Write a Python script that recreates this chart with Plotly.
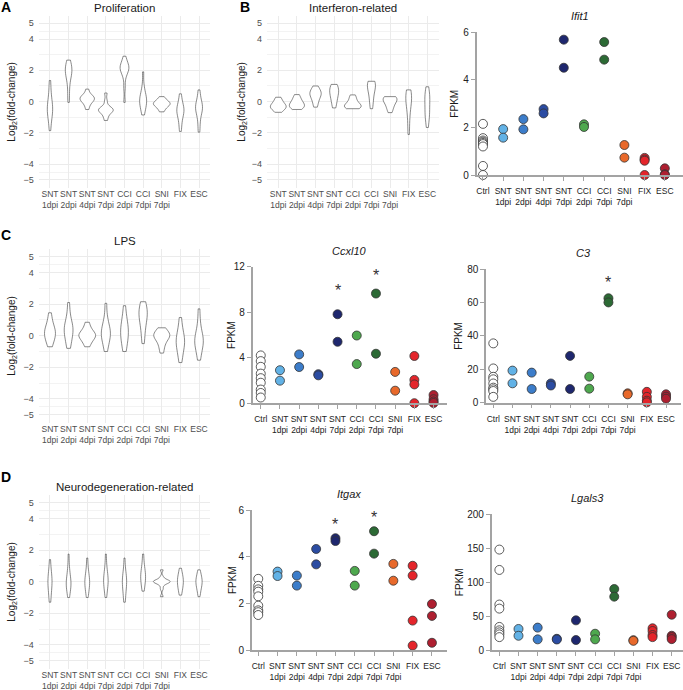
import plotly.graph_objects as go

W, H = 683, 690

groups = ["Ctrl", "SNT<br>1dpi", "SNT<br>2dpi", "SNT<br>4dpi", "SNT<br>7dpi",
          "CCI<br>2dpi", "CCI<br>7dpi", "SNI<br>7dpi", "FIX", "ESC"]
violin_groups = groups[1:]
colors = ["white", "#62b2e6", "#3c7dca", "#2b4ca2", "#1e276e",
          "#4ea84e", "#2c6a35", "#e8692b", "#e4252b", "#ae1f30"]

# log2 fold-change distributions (one list per condition), read by eye
prolif = [
    [1.35, 0.8, 0.3, 0.0, -0.2, -0.35, -0.5, -0.6, -0.75, -0.95, -1.3, -1.85],
    [2.65, 2.4, 2.25, 2.15, 2.05, 1.95, 1.85, 1.7, 1.5, 1.1, 0.5, -0.05],
    [0.8, 0.5, 0.38, 0.3, 0.25, 0.2, 0.15, 0.1, 0.02, -0.08, -0.25, -0.5],
    [0.55, 0.05, -0.3, -0.42, -0.48, -0.52, -0.55, -0.58, -0.65, -0.78, -0.95, -1.2],
    [2.9, 2.6, 2.4, 2.3, 2.2, 2.15, 2.1, 2.0, 1.85, 1.6, 0.9, -0.05],
    [1.9, 1.0, 0.6, 0.4, 0.25, 0.15, 0.05, -0.05, -0.2, -0.35, -0.55, -0.85],
    [0.32, 0.15, 0.05, -0.02, -0.08, -0.12, -0.16, -0.2, -0.26, -0.35, -0.48, -0.65],
    [0.5, 0.1, -0.2, -0.35, -0.45, -0.55, -0.62, -0.72, -0.9, -1.15, -1.5, -1.9],
    [0.75, 0.3, 0.0, -0.18, -0.28, -0.36, -0.44, -0.55, -0.72, -1.0, -1.45, -1.95],
]
interferon = [
    [0.28, 0.15, 0.0, -0.1, -0.2, -0.25, -0.3, -0.35, -0.4, -0.45, -0.55, -0.68],
    [0.45, 0.3, 0.15, 0.05, -0.05, -0.15, -0.2, -0.25, -0.3, -0.35, -0.42, -0.5],
    [1.0, 0.85, 0.7, 0.6, 0.55, 0.5, 0.45, 0.35, 0.2, 0.05, -0.15, -0.35],
    [1.1, 1.0, 0.9, 0.8, 0.7, 0.6, 0.5, 0.35, 0.2, 0.05, -0.2, -0.4],
    [0.43, 0.3, 0.15, 0.0, -0.1, -0.2, -0.25, -0.3, -0.32, -0.35, -0.4, -0.45],
    [1.3, 1.25, 1.2, 1.15, 1.05, 0.95, 0.8, 0.6, 0.4, 0.15, -0.15, -0.45],
    [0.32, 0.3, 0.25, 0.2, 0.15, 0.1, 0.0, -0.1, -0.2, -0.35, -0.5, -0.7],
    [0.75, 0.6, 0.5, 0.4, 0.3, 0.15, 0.0, -0.2, -0.5, -0.9, -1.5, -2.1],
    [0.95, 0.55, 0.4, 0.3, 0.2, 0.05, -0.5, -0.65, -0.75, -0.9, -1.2, -1.65],
]
lps = [
    [1.45, 1.0, 0.7, 0.5, 0.35, 0.25, 0.15, 0.05, -0.1, -0.25, -0.45, -0.7],
    [2.1, 1.4, 0.95, 0.7, 0.55, 0.45, 0.35, 0.2, 0.0, -0.25, -0.5, -0.8],
    [0.85, 0.55, 0.35, 0.2, 0.1, 0.05, 0.0, -0.05, -0.15, -0.3, -0.45, -0.7],
    [2.05, 1.2, 0.8, 0.55, 0.35, 0.25, 0.15, 0.0, -0.15, -0.35, -0.6, -1.0],
    [1.9, 1.3, 0.95, 0.7, 0.5, 0.35, 0.2, 0.05, -0.15, -0.4, -0.65, -1.0],
    [2.15, 1.95, 1.75, 1.6, 1.45, 1.35, 1.2, 1.0, 0.75, 0.4, 0.0, -0.5],
    [0.5, 0.35, 0.2, 0.1, 0.05, 0.0, -0.05, -0.15, -0.3, -0.5, -0.75, -1.1],
    [1.15, 0.6, 0.25, 0.0, -0.2, -0.3, -0.4, -0.55, -0.75, -1.0, -1.3, -1.7],
    [1.7, 0.9, 0.4, 0.1, -0.1, -0.25, -0.35, -0.45, -0.6, -0.85, -1.15, -1.55],
]
neurodeg = [
    [1.4, 0.85, 0.55, 0.35, 0.15, 0.05, -0.05, -0.2, -0.4, -0.65, -0.95, -1.3],
    [1.75, 1.0, 0.6, 0.35, 0.15, 0.0, -0.1, -0.2, -0.3, -0.45, -0.7, -1.0],
    [1.5, 0.9, 0.55, 0.35, 0.2, 0.05, -0.05, -0.15, -0.3, -0.45, -0.7, -1.0],
    [1.75, 1.05, 0.7, 0.45, 0.3, 0.15, 0.05, -0.05, -0.2, -0.4, -0.65, -1.0],
    [1.5, 0.85, 0.5, 0.3, 0.15, 0.05, -0.05, -0.2, -0.4, -0.65, -0.95, -1.3],
    [1.75, 1.2, 0.9, 0.65, 0.5, 0.4, 0.3, 0.2, 0.05, -0.15, -0.35, -0.6],
    [0.75, 0.3, 0.12, 0.06, 0.03, 0.0, 0.0, -0.03, -0.08, -0.2, -0.45, -0.95],
    [0.85, 0.55, 0.4, 0.25, 0.15, 0.05, -0.05, -0.15, -0.3, -0.45, -0.6, -0.85],
    [0.75, 0.5, 0.35, 0.2, 0.1, 0.0, -0.05, -0.15, -0.3, -0.45, -0.65, -0.95],
]

# FPKM per sample, one list per group (Ctrl ... ESC)
ifit1 = [[2.15, 1.55, 1.45, 1.4, 1.35, 1.3, 1.2, 0.38, 0.0],
         [1.93, 1.57], [2.35, 1.92], [2.77, 2.59], [5.69, 4.51],
         [2.13, 2.02], [5.59, 4.85], [1.26, 0.73], [0.72, 0.65, 0.6, 0.0],
         [0.28, 0.03, 0.0]]
cxcl10 = [[4.2, 3.7, 3.2, 2.6, 2.2, 1.8, 1.2, 0.9, 0.5],
          [2.9, 1.98], [4.29, 3.18], [2.55, 2.45], [7.82, 5.4],
          [5.95, 3.44], [9.64, 4.35], [2.75, 1.1], [4.15, 2.05, 1.65, 0.0],
          [0.72, 0.35, 0.15, 0.02]]
c3 = [[35.5, 20.5, 15.5, 14, 11.5, 9, 8, 7, 3.5],
      [19.2, 11.6], [18, 8.2], [11.5, 10.3], [28, 8.2],
      [15.6, 8.4], [62.5, 60], [5.6, 5], [6.5, 3.5, 1.2, 0.2],
      [5, 3.6, 2.4]]
itgax = [[3.05, 2.75, 2.6, 2.5, 2.3, 1.9, 1.7, 1.62, 1.5],
         [3.36, 3.17], [3.19, 2.76], [4.33, 3.67], [4.79, 4.67],
         [3.39, 2.76], [5.09, 4.13], [3.69, 2.97], [3.61, 3.19, 1.26, 0.19],
         [1.97, 1.46, 0.31]]
lgals3 = [[148, 118, 67, 61, 34, 29, 26, 23, 19],
          [31, 21], [33, 15.7], [16.5, 15.5], [43.7, 14.7],
          [24, 15.7], [89.9, 78.6], [14.5, 13.5], [32, 28, 22, 19],
          [52, 21, 19, 16]]

# significance stars: (group index, height)
ifit1_stars = [(4, 6.4), (6, 6.4)]
cxcl10_stars = [(4, 10.2), (6, 11.5)]
c3_stars = [(6, 73.5)]
itgax_stars = [(4, 5.5), (6, 5.79)]

FONT = "Arial, Liberation Sans, sans-serif"


def xd(a, b):
    return [a / W, b / W]


def yd(top, bottom):
    return [1 - bottom / H, 1 - top / H]


def label(text, px, py, size=11, color="#1a1a1a", angle=0):
    fig.add_annotation(text=text, x=px / W, y=1 - py / H, xref="paper", yref="paper",
                       xanchor="center", yanchor="middle",
                       showarrow=False, textangle=angle,
                       font=dict(family=FONT, size=size, color=color))


fig = go.Figure()

# ---- violin panels ----
violin_panels = [
    (prolif, 1, "Proliferation", (38.8, 210.2), (15.5, 187.8), "A", (6, 7), 12),
    (interferon, 2, "Interferon-related", (267.1, 438.5), (15.5, 187.8), "B", (245, 7), 242),
    (lps, 3, "LPS", (38.8, 210.2), (248.8, 422.6), "C", (6, 235), 12),
    (neurodeg, 4, "Neurodegeneration-related", (38.8, 210.2), (494.8, 668.6), "D", (6, 477), 12),
]
for data, n, title, xpx, ypx, letter, lpos, ytx in violin_panels:
    xs, ys = [], []
    for name, vals in zip(violin_groups, data):
        xs += [name] * len(vals)
        ys += vals
    fig.add_trace(go.Violin(x=xs, y=ys, xaxis="x%d" % n, yaxis="y%d" % n,
                            scalegroup="v%d" % n, scalemode="width", spanmode="hard",
                            width=0.9, points=False,
                            fillcolor="white", line=dict(color="#3a3a3a", width=0.6),
                            showlegend=False, hoverinfo="skip"))
    fig.update_layout(**{
        "xaxis%d" % n: dict(domain=xd(*xpx), anchor="y%d" % n, range=[-0.6, 8.6],
                            categoryorder="array", categoryarray=violin_groups,
                            showgrid=True, gridcolor="#ebebeb", gridwidth=0.6,
                            ticks="", showline=False, zeroline=False, tickangle=0,
                            automargin=False,
                            tickfont=dict(family=FONT, size=8.5, color="#4d4d4d")),
        "yaxis%d" % n: dict(domain=yd(*ypx), anchor="x%d" % n, range=[-5.5, 5.5],
                            tickvals=[-5, -4, -2, 0, 2, 4, 5],
                            showgrid=True, gridcolor="#ebebeb", gridwidth=0.6,
                            minor=dict(tickvals=[-4.5, -3, -1, 1, 3, 4.5], showgrid=True,
                                       gridcolor="#f3f3f3", gridwidth=0.5),
                            ticks="", showline=False, zeroline=False, automargin=False,
                            ticklabelstandoff=4,
                            tickfont=dict(family=FONT, size=9, color="#4d4d4d")),
    })
    cx = (xpx[0] + xpx[1]) / 2
    label(title, cx, ypx[0] - 8, size=11.5)
    label("<b>%s</b>" % letter, lpos[0], lpos[1], size=14, color="black")
    label("Log<sub>2</sub>(fold-change)", ytx, (ypx[0] + ypx[1]) / 2, size=10, angle=-90)

# ---- dot panels ----
dot_panels = [
    (ifit1, 5, "Ifit1", (476.5, 683), (-0.32, 9.9), (32.3, 175), [0, 6], [0, 2, 4, 6], ifit1_stars, 455),
    (cxcl10, 6, "Ccxl10", (252.5, 447), (-0.43, 9.7), (266.7, 403.2), [0, 12], [0, 4, 8, 12], cxcl10_stars, 232),
    (c3, 7, "C3", (486, 681), (-0.38, 9.78), (269, 402.7), [0, 80], [0, 20, 40, 60, 80], c3_stars, 459),
    (itgax, 8, "Itgax", (251.7, 447), (-0.34, 9.78), (510, 650), [0, 6], [0, 2, 4, 6], itgax_stars, 232),
    (lgals3, 9, "Lgals3", (491.7, 683), (-0.4, 9.59), (514.3, 650), [0, 200], [0, 50, 100, 150, 200], [], 459),
]
for data, n, title, xpx, xr, ypx, yr, yt, stars, ftx in dot_panels:
    for i, vals in enumerate(data):
        fig.add_trace(go.Scatter(x=[groups[i]] * len(vals), y=vals, mode="markers",
                                 xaxis="x%d" % n, yaxis="y%d" % n, cliponaxis=False,
                                 marker=dict(size=9, color=colors[i],
                                             line=dict(color="#333333", width=0.8)),
                                 showlegend=False, hoverinfo="skip"))
    axis_style = dict(showline=True, linecolor="#a3a3a3", linewidth=1.5, ticks="outside",
                      ticklen=4, tickcolor="#a3a3a3", tickwidth=1.2, showgrid=False,
                      zeroline=False, automargin=False)
    fig.update_layout(**{
        "xaxis%d" % n: dict(domain=xd(*xpx), anchor="y%d" % n, range=list(xr),
                            categoryorder="array", categoryarray=groups, tickangle=0,
                            ticklabelstandoff=3,
                            tickfont=dict(family=FONT, size=8.5, color="#222"), **axis_style),
        "yaxis%d" % n: dict(domain=yd(*ypx), anchor="x%d" % n, range=yr, tickvals=yt,
                            tickfont=dict(family=FONT, size=10, color="#222"), **axis_style),
    })
    for gi, sy in stars:
        fig.add_annotation(text="*", x=groups[gi], y=sy, xref="x%d" % n, yref="y%d" % n,
                           showarrow=False, yshift=-3,
                           font=dict(family=FONT, size=16, color="#333"))
    label("<i>%s</i>" % title, (xpx[0] + xpx[1]) / 2, ypx[0] - 16, size=11)
    label("FPKM", ftx, (ypx[0] + ypx[1]) / 2, size=10, angle=-90)

fig.update_layout(width=W, height=H, margin=dict(l=0, r=0, t=0, b=0),
                  template="none", plot_bgcolor="white", paper_bgcolor="white",
                  font=dict(family=FONT))
fig.write_html("out.html", config={"displayModeBar": False},
               post_script="document.body.style.margin='0';")
